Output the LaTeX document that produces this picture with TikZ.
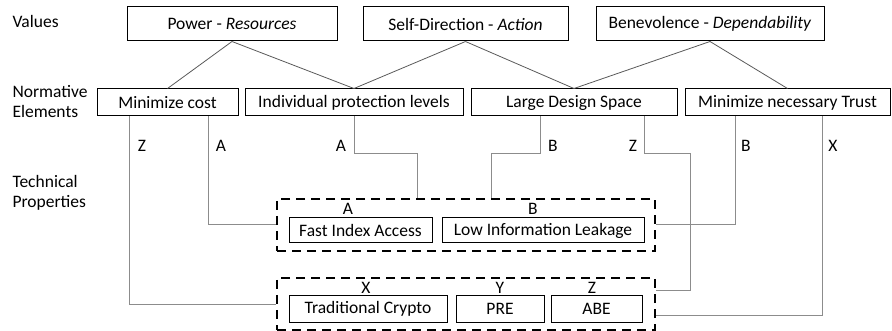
\documentclass[tikz,border=0pt]{standalone}
\usepackage{fontspec}
\setmainfont{Carlito}
\usetikzlibrary{calc}
\colorlet{WireGray}{black!45}
\colorlet{TreeGray}{black!65}
\tikzset{
    value box/.style={
        draw, line width=1pt, minimum height=34pt, inner sep=0pt
    },
    norm box/.style={
        draw, line width=1pt, minimum height=27pt, inner sep=0pt
    },
    prop box/.style={
        draw, line width=1pt, minimum height=25pt, inner sep=0pt
    },
    group box/.style={
        draw, line width=2.2pt, dash pattern=on 9pt off 6pt,
        minimum width=378pt, minimum height=52pt, inner sep=0pt
    },
    tree/.style={draw=TreeGray, line width=0.8pt},
    wire/.style={draw=WireGray, line width=1pt},
    letter/.style={inner sep=0pt}
}

\begin{document}
\begin{tikzpicture}[x=1pt, y=-1pt, font=\fontsize{17.5}{20}\selectfont]

\useasboundingbox (0,0) rectangle (892,331);

% Ebenen links.
\node[anchor=west, align=left] (lvalues) at (9,21) {Values};
\node[anchor=west, align=left] (lnorm) at (9,102) {Normative\\Elements};
\node[anchor=west, align=left] (ltech) at (9,193) {Technical\\Properties};

% Werte.
\node[value box, minimum width=210pt] (power) at (232,24) {Power - \textit{Resources}};
\node[value box, minimum width=205pt] (selfdir) at (465.5,24) {Self-Direction - \textit{Action}};
\node[value box, minimum width=228pt] (benev) at (710,24) {Benevolence - \textit{Dependability}};

% Normative Elemente.
\node[norm box, minimum width=141pt] (cost) at (167.5,102.5) {Minimize cost};
\node[norm box, minimum width=218pt] (indiv) at (354,102.5) {Individual protection levels};
\node[norm box, minimum width=206pt] (large) at (574,102.5) {Large Design Space};
\node[norm box, minimum width=205pt] (trust) at (787.5,102.5) {Minimize necessary Trust};

% Technische Eigenschaften, gruppiert.
\node[group box] (groupone) at (466,225) {};
\node[group box] (grouptwo) at (466,304) {};

\node[prop box, minimum width=143pt] (fast) at (360.5,230.5) {Fast Index Access};
\node[prop box, minimum width=202pt] (leak) at (543,230.5) {Low Information Leakage};
\node[prop box, minimum width=158pt, minimum height=26pt] (crypto) at (368,309) {Traditional Crypto};
\node[prop box, minimum width=88pt, minimum height=26pt] (pre) at (500,309) {PRE};
\node[prop box, minimum width=91pt, minimum height=26pt] (abe) at (596.5,309) {ABE};

\node[letter] (kfast) at (348,209) {A};
\node[letter] (kleak) at (533,209) {B};
\node[letter] (kcrypto) at (366,288) {X};
\node[letter] (kpre) at (500,288) {Y};
\node[letter] (kabe) at (592,288) {Z};

% Werte zu normativen Elementen.
\draw[tree] (power.south) -- (cost.north);
\draw[tree] (power.south) -- (indiv.north);
\draw[tree] (selfdir.south) -- (indiv.north);
\draw[tree] (selfdir.south) -- (large.north);
\draw[tree] (benev.south) -- (large.north);
\draw[tree] (benev.south) -- (trust.north);

% Normative Elemente zu Eigenschaften.
\draw[wire] (cost.south -| 129,0) |- (grouptwo.west);
\draw[wire] (cost.south -| 208,0) |- (groupone.west);
\draw[wire] (indiv.south) |- (417,154) -- (groupone.north -| 417,0);
\draw[wire] (large.south -| 540,0) |- (491,154) -- (groupone.north -| 491,0);
\draw[wire] (large.south -| 644,0) |- (690,154) |- (grouptwo.east |- 0,291);
\draw[wire] (trust.south -| 735,0) |- (groupone.east);
\draw[wire] (trust.south -| 822,0) |- (grouptwo.east |- 0,315);

\node[letter] (kz) at (142,146) {Z};
\node[letter] (ka) at (221,146) {A};
\node[letter] (kaa) at (341,146) {A};
\node[letter] (kb) at (553,146) {B};
\node[letter] (kzz) at (633,146) {Z};
\node[letter] (kbb) at (746,146) {B};
\node[letter] (kx) at (833,146) {X};

\end{tikzpicture}
\end{document}
